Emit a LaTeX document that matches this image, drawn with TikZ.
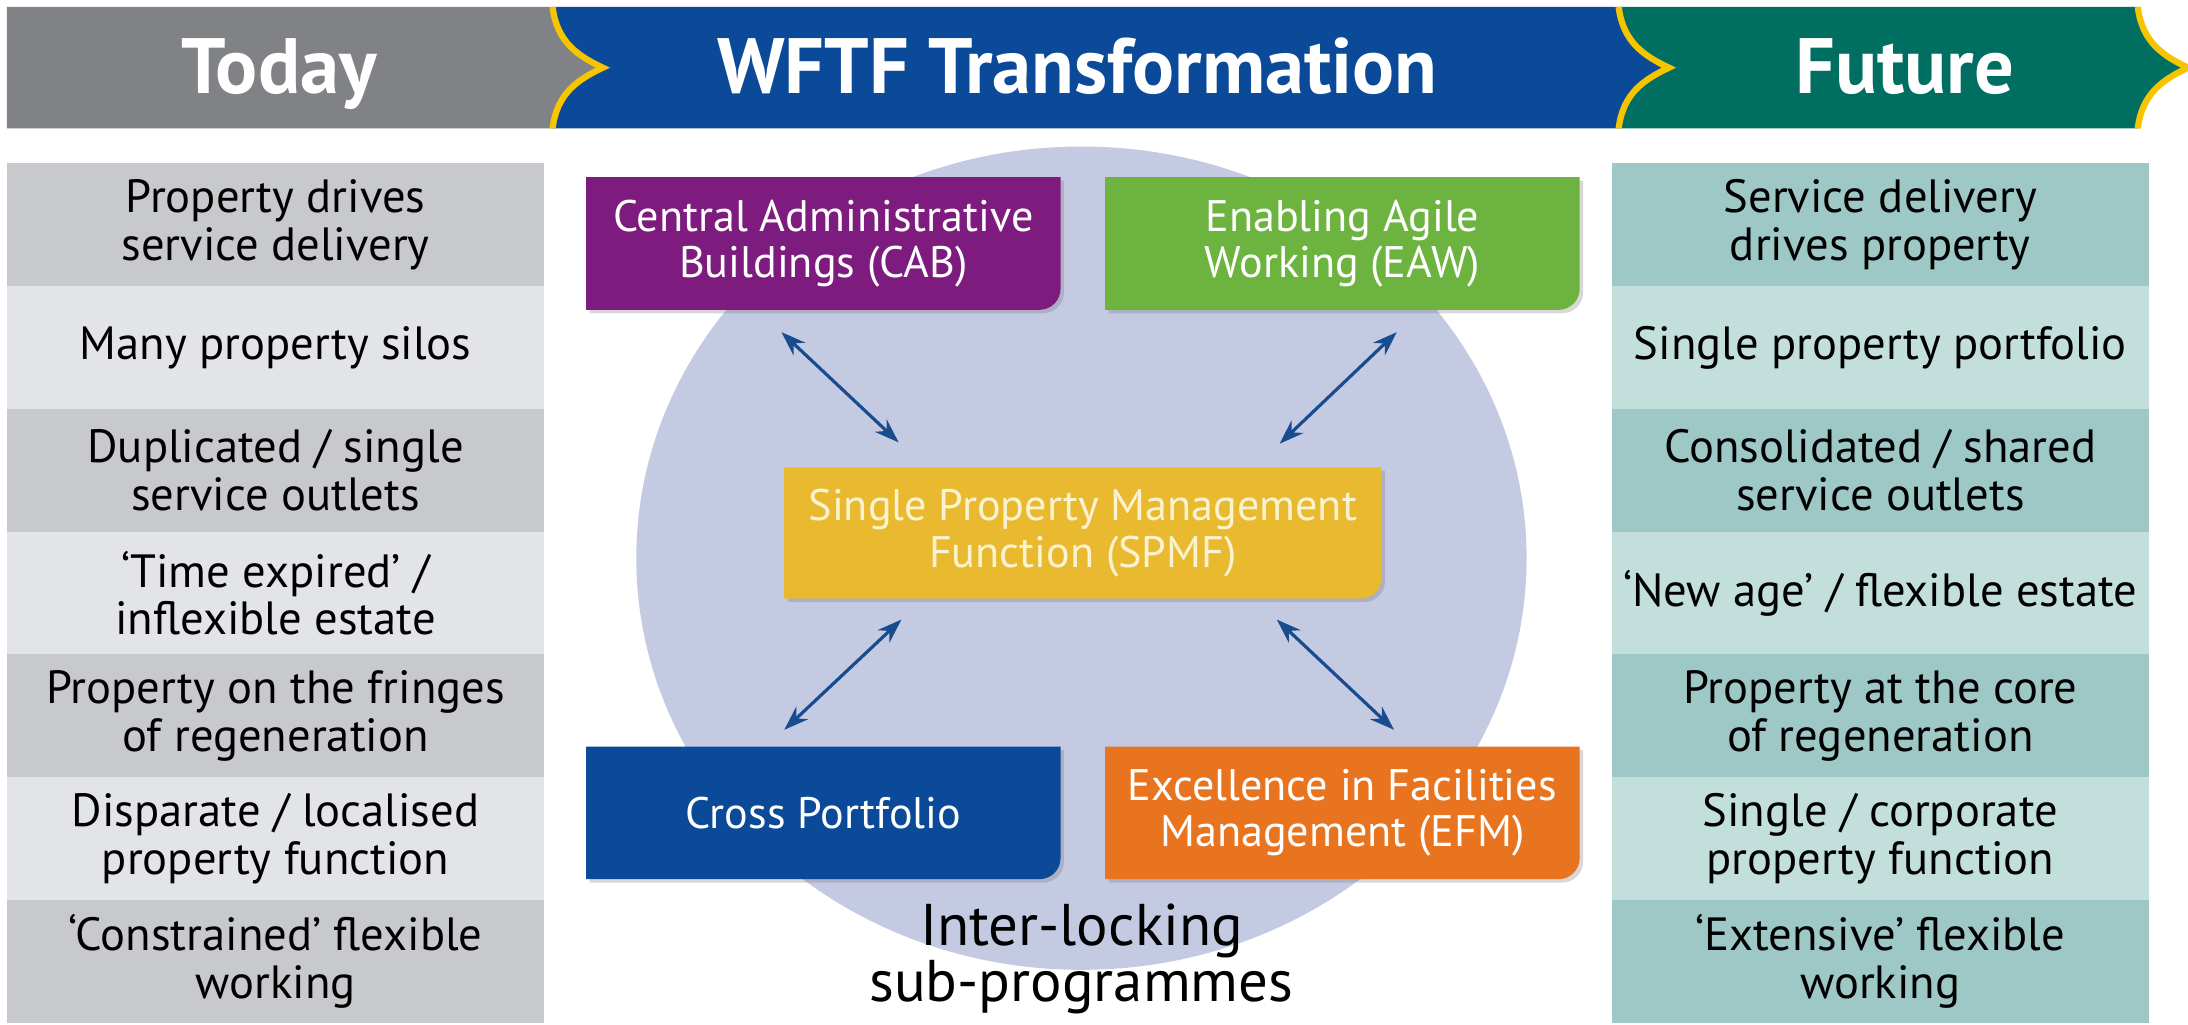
\documentclass[tikz,border=0pt]{standalone}
\usepackage{fontspec}
\setmainfont{PT Sans}
\usetikzlibrary{arrows.meta,backgrounds,shadows}

\definecolor{todaygray}{HTML}{808285}
\definecolor{wftfblue}{HTML}{0B4A98}
\definecolor{futureteal}{HTML}{006F62}
\definecolor{rimyellow}{HTML}{F6C500}
\definecolor{todaydarkcol}{HTML}{C8C9CC}
\definecolor{todaylightcol}{HTML}{E2E4E7}
\definecolor{futuredarkcol}{HTML}{9DC8C6}
\definecolor{futurelightcol}{HTML}{C2DFDC}
\definecolor{ringcol}{HTML}{C5CAE3}
\definecolor{cabcol}{HTML}{7D1C7E}
\definecolor{eawcol}{HTML}{6DB33F}
\definecolor{spmfcol}{HTML}{E9B92F}
\definecolor{crosscol}{HTML}{0B4A98}
\definecolor{efmcol}{HTML}{E8741F}
\definecolor{linkcol}{HTML}{174C8E}
\definecolor{spmftext}{HTML}{FBF2CF}

\begin{document}
\begin{tikzpicture}
      \newcommand{\colwidth}[0]{7.7cm}
      \newcommand{\rowheight}[0]{1.76cm}
      \newcommand{\tabwidth}[0]{6.8cm}
      \newcommand{\tabheight}[0]{1.9cm}
      \newcommand{\tabgap}[0]{0.64cm}
      \newcommand{\tabround}[0]{0.3cm}
      \newcommand{\tabfill}[2]{
        \fill[#2, tabshadow] (#1.north west) -- (#1.north east)
          -- ([yshift=\tabround] #1.south east)
          arc[start angle=0, end angle=-90, radius=\tabround]
          -- (#1.south west) -- cycle;
      }
      
      \coordinate (origo) at (0,0);
      \useasboundingbox (origo) rectangle (31.36,-14.68);
      
      \tikzstyle{row}=[
        rectangle,
        anchor=north,
        align=center,
        inner sep=0pt,
        outer sep=0pt,
        minimum width=\colwidth,
        minimum height=\rowheight,
        font=\fontsize{19}{19.5}\selectfont,
      ]
      \tikzstyle{todaydark} = [row, fill=todaydarkcol]
      \tikzstyle{todaylight} = [row, fill=todaylightcol]
      \tikzstyle{futuredark} = [row, fill=futuredarkcol]
      \tikzstyle{futurelight} = [row, fill=futurelightcol]
      \tikzstyle{tab} = [
        rectangle,
        align=center,
        inner sep=0pt,
        outer sep=0pt,
        minimum width=\tabwidth,
        minimum height=\tabheight,
        text=white,
        font=\fontsize{18}{19}\selectfont,
      ]
      \tikzstyle{tabshadow} = [
        drop shadow={shadow xshift=0.05cm, shadow yshift=-0.05cm,
          opacity=0.25, fill=black!60},
      ]
      \tikzstyle{headtext} = [
        anchor=base,
        text=white,
        font=\fontsize{32}{38}\selectfont\bfseries,
      ]
      \tikzstyle{rim} = [
        draw=rimyellow,
        line width=0.09cm,
      ]
      \tikzstyle{chevron} = [
        insert path={.. controls +(0.06,-0.5) and +(-0.36,0.17) .. ++(0.72,-0.87)
          .. controls +(-0.36,-0.17) and +(0.06,0.5) .. ++(-0.72,-0.87)},
      ]
      \tikzstyle{link} = [
        draw=linkcol,
        line width=1.3pt,
        {Stealth[length=10pt,width=7pt]}-{Stealth[length=10pt,width=7pt]},
      ]
      
      % page and ring behind everything
      \begin{scope}[on background layer]
        \fill[white] (origo) rectangle (31.36,-14.68);
        \fill[ringcol] (15.5,-8.0) ellipse [x radius=6.38cm, y radius=5.9cm];
      \end{scope}
      
      % header band
      {
        \fill[futureteal] (23.2,-0.1) -- (30.64,-0.1) [chevron] -- (23.2,-1.84) -- cycle;
        \fill[wftfblue] (7.92,-0.1) -- (23.2,-0.1) [chevron] -- (7.92,-1.84) -- cycle;
        \fill[todaygray] (0.1,-0.1) -- (7.92,-0.1) [chevron] -- (0.1,-1.84) -- cycle;
        \draw[rim] (7.92,-0.1) [chevron];
        \draw[rim] (23.2,-0.1) [chevron];
        \draw[rim] (30.64,-0.1) [chevron];
        
        \node[headtext] (today) at (4.0,-1.34) {Today};
        \node[headtext] (wftf) at (15.44,-1.34) {WFTF Transformation};
        \node[headtext] (future) at (27.3,-1.34) {Future};
      }
      
      % today column
      {
        \node[todaydark] (todayI) at (3.95,-2.34) {Property drives\\service delivery};
        \node[todaylight] (todayII) at (todayI.south) {Many property silos};
        \node[todaydark] (todayIII) at (todayII.south) {Duplicated / single\\service outlets};
        \node[todaylight] (todayIV) at (todayIII.south) {‘Time expired’ /\\inflexible estate};
        \node[todaydark] (todayV) at (todayIV.south) {Property on the fringes\\of regeneration};
        \node[todaylight] (todayVI) at (todayV.south) {Disparate / localised\\property function};
        \node[todaydark] (todayVII) at (todayVI.south) {‘Constrained’ flexible\\working};
      }
      
      % future column
      {
        \node[futuredark] (futureI) at (26.95,-2.34) {Service delivery\\drives property};
        \node[futurelight] (futureII) at (futureI.south) {Single property portfolio};
        \node[futuredark] (futureIII) at (futureII.south) {Consolidated / shared\\service outlets};
        \node[futurelight] (futureIV) at (futureIII.south) {‘New age’ / flexible estate};
        \node[futuredark] (futureV) at (futureIV.south) {Property at the core\\of regeneration};
        \node[futurelight] (futureVI) at (futureV.south) {Single / corporate\\property function};
        \node[futuredark] (futureVII) at (futureVI.south) {‘Extensive’ flexible\\working};
      }
      
      % sub-programmes
      {
        \node[tab] (cab) at (11.8,-3.49) {Central Administrative\\Buildings (CAB)};
        \node[tab,anchor=west] (eaw) at ([xshift=\tabgap] cab.east) {Enabling Agile\\Working (EAW)};
        \node[tab,text=spmftext,minimum width=8.56cm,minimum height=1.88cm] (spmf)
          at (15.52,-7.64) {Single Property Management\\Function (SPMF)};
        \node[tab] (cross) at (11.8,-11.65) {Cross Portfolio};
        \node[tab,anchor=west] (efm) at ([xshift=\tabgap] cross.east) {Excellence in Facilities\\Management (EFM)};
        
        \begin{scope}[on background layer]
          \tabfill{cab}{cabcol}
          \tabfill{eaw}{eawcol}
          \tabfill{spmf}{spmfcol}
          \tabfill{cross}{crosscol}
          \tabfill{efm}{efmcol}
        \end{scope}
        
        \draw[link] ([xshift=2.8cm, yshift=-0.32cm] cab.south west)
          -- ([xshift=1.64cm, yshift=0.36cm] spmf.north west);
        \draw[link] ([xshift=-2.62cm, yshift=-0.32cm] eaw.south east)
          -- ([xshift=-1.46cm, yshift=0.34cm] spmf.north east);
        \draw[link] ([xshift=1.68cm, yshift=-0.3cm] spmf.south west)
          -- ([xshift=2.84cm, yshift=0.24cm] cross.north west);
        \draw[link] ([xshift=-1.5cm, yshift=-0.3cm] spmf.south east)
          -- ([xshift=-2.66cm, yshift=0.24cm] efm.north east);
      }
      
      \node[anchor=north,align=center,font=\fontsize{24}{23}\selectfont] (label)
        at (15.5,-12.83) {Inter-locking\\sub-programmes};
\end{tikzpicture}
\end{document}
